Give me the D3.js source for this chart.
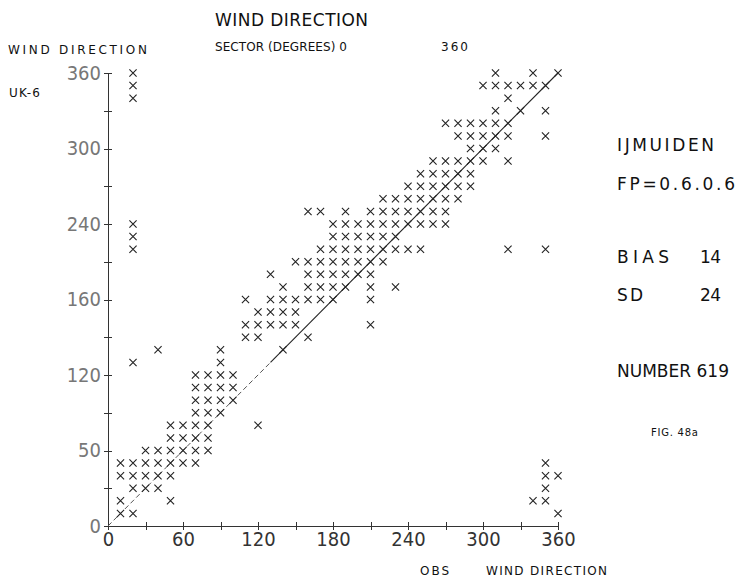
<!DOCTYPE html>
<html>
<head>
<meta charset="utf-8">
<title>Wind direction UK-6 vs OBS</title>
<script src="https://cdn.jsdelivr.net/npm/d3@7"></script>
<style>
  body { margin: 0; background: #fff; }
  svg { display: block; background: #fff; }
  .lbl { font-family: "DejaVu Sans", sans-serif; fill: #111; }
  .axis path, .axis line { stroke: #333; shape-rendering: crispEdges; }
  .axis text { font-family: "DejaVu Sans Condensed", "DejaVu Sans", sans-serif; font-weight: 200; }
  .cross { fill: none; stroke: #222; stroke-width: 1.1; }
</style>
</head>
<body>
<script>
// UK-6 direction of each row of crosses, and the observed directions in that row
const ukLevels = [360, 350, 340, 330, 320, 310, 300, 290, 280, 270, 260, 250, 240, 230, 220, 210,
  200, 190, 180, 170, 160, 150, 140, 130, 120, 110, 100, 90, 80, 70, 60, 50, 40, 30, 20, 10];
const obsAtLevel = [
  [20, 310, 340, 360],
  [20, 300, 310, 320, 330, 340, 350],
  [20, 320],
  [310, 330, 350],
  [270, 280, 290, 300, 310, 320],
  [280, 290, 300, 310, 320, 350],
  [290, 300, 310],
  [260, 270, 280, 290, 300, 320],
  [250, 260, 270, 280, 290],
  [240, 250, 260, 270, 280, 290],
  [220, 230, 240, 250, 260, 270, 280],
  [160, 170, 190, 210, 220, 230, 240, 250, 260, 270],
  [20, 180, 190, 200, 210, 220, 230, 240, 250, 260, 270],
  [20, 180, 190, 200, 210, 220, 230],
  [20, 170, 180, 190, 200, 210, 220, 230, 240, 250, 320, 350],
  [150, 160, 170, 180, 190, 200, 210, 220],
  [130, 160, 170, 180, 190, 200, 210],
  [140, 160, 170, 180, 190, 210, 230],
  [110, 130, 140, 150, 160, 170, 180, 210],
  [120, 130, 140, 150],
  [110, 120, 130, 140, 150, 210],
  [110, 120, 160],
  [40, 90, 140],
  [20, 90],
  [70, 80, 90, 100],
  [70, 80, 90, 100],
  [70, 80, 90, 100],
  [70, 80, 90],
  [50, 60, 70, 80, 120],
  [50, 60, 70, 80],
  [30, 40, 50, 60, 70, 80],
  [10, 20, 30, 40, 50, 60, 70, 350],
  [10, 20, 30, 40, 50, 350, 360],
  [20, 30, 40, 350],
  [10, 50, 340, 350],
  [10, 20, 360]
];

const tickValues = [0, 60, 120, 180, 240, 300, 360];
const minorTicks = d3.range(0, 361, 30);
const xTickLabels = ["0", "60", "120", "180", "240", "300", "360"];
const yTickLabels = ["0", "50", "120", "160", "240", "300", "360"];

const statNames = ["BIAS", "SD"];
const statValues = ["14", "24"];

const W = 746, H = 577;
const svg = d3.select("body").append("svg")
  .attr("width", W)
  .attr("height", H);

const x = d3.scaleLinear().domain([0, 360]).range([108, 558]);
const y = d3.scaleLinear().domain([0, 360]).range([526, 73]);

// points
let points = [];
ukLevels.forEach((lev, i) => {
  obsAtLevel[i].forEach(o => points.push({obs: o, uk: lev}));
});

// x axis: ticks crossing the line
svg.append("g").attr("class", "axis")
  .attr("transform", "translate(0," + y(0) + ")")
  .call(d3.axisBottom(x).tickValues(minorTicks).tickSize(4).tickSizeOuter(0).tickFormat(""));
svg.append("g").attr("class", "axis")
  .attr("transform", "translate(0," + y(0) + ")")
  .call(d3.axisTop(x).tickValues(minorTicks).tickSize(4).tickSizeOuter(0).tickFormat(""));
let xl = svg.append("g").attr("class", "axis")
  .attr("transform", "translate(0," + y(0) + ")")
  .call(d3.axisBottom(x).tickValues(tickValues).tickSize(0).tickPadding(6)
    .tickFormat((d, i) => xTickLabels[i]));
xl.select(".domain").remove();
xl.selectAll("text").attr("font-size", 20).attr("fill", "#333");

// y axis
svg.append("g").attr("class", "axis")
  .attr("transform", "translate(" + x(0) + ",0)")
  .call(d3.axisLeft(y).tickValues(minorTicks).tickSize(4).tickSizeOuter(0).tickFormat(""));
svg.append("g").attr("class", "axis")
  .attr("transform", "translate(" + x(0) + ",0)")
  .call(d3.axisRight(y).tickValues(minorTicks).tickSize(4).tickSizeOuter(0).tickFormat(""));
let yl = svg.append("g").attr("class", "axis")
  .attr("transform", "translate(" + x(0) + ",0)")
  .call(d3.axisLeft(y).tickValues(tickValues).tickSize(0).tickPadding(7)
    .tickFormat((d, i) => yTickLabels[i]));
yl.select(".domain").remove();
yl.selectAll("text").attr("font-size", 20).attr("fill", "#777");

// diagonal (perfect agreement)
svg.append("line")
  .attr("x1", x(0)).attr("y1", y(0))
  .attr("x2", x(130)).attr("y2", y(130))
  .attr("stroke", "#555").attr("stroke-width", 1)
  .attr("stroke-dasharray", "5,3");
svg.append("line")
  .attr("x1", x(130)).attr("y1", y(130))
  .attr("x2", x(360)).attr("y2", y(360))
  .attr("stroke", "#222").attr("stroke-width", 1.1);

// crosses
const s = 3.6;
svg.selectAll(".cross")
  .data(points).enter()
  .append("path")
  .attr("class", "cross")
  .attr("transform", d => "translate(" + x(d.obs) + "," + y(d.uk) + ")")
  .attr("d", "M" + -s + "," + -s + "L" + s + "," + s + "M" + -s + "," + s + "L" + s + "," + -s);

// texts
function txt(t, tx, ty, size, len) {
  let e = svg.append("text").attr("class", "lbl")
    .attr("x", tx).attr("y", ty)
    .attr("font-size", size)
    .text(t);
  if (len) e.attr("textLength", len).attr("lengthAdjust", "spacing");
  return e;
}

txt("WIND DIRECTION", 215, 26, 17, 153);
txt("SECTOR (DEGREES) 0", 215, 51, 12, 132);
txt("360", 441, 51, 12, 27);
txt("WIND DIRECTION", 8, 54, 12, 139);
txt("UK-6", 9, 97, 12, 31);

txt("IJMUIDEN", 617, 151, 17, 97);
txt("FP=0.6.0.6", 617, 190, 17, 118);
statNames.forEach((n, i) => {
  txt(n, 617, 263 + i * 38, 17, n.length * 13);
  txt(statValues[i], 700, 263 + i * 38, 17, 21);
});
txt("NUMBER 619", 617, 377, 17, 112);
txt("FIG. 48a", 651, 436, 10, 47).attr("font-family", "Liberation Mono, monospace");

txt("OBS", 420, 575, 12, 29);
txt("WIND DIRECTION", 486, 575, 12, 121);
</script>
</body>
</html>
